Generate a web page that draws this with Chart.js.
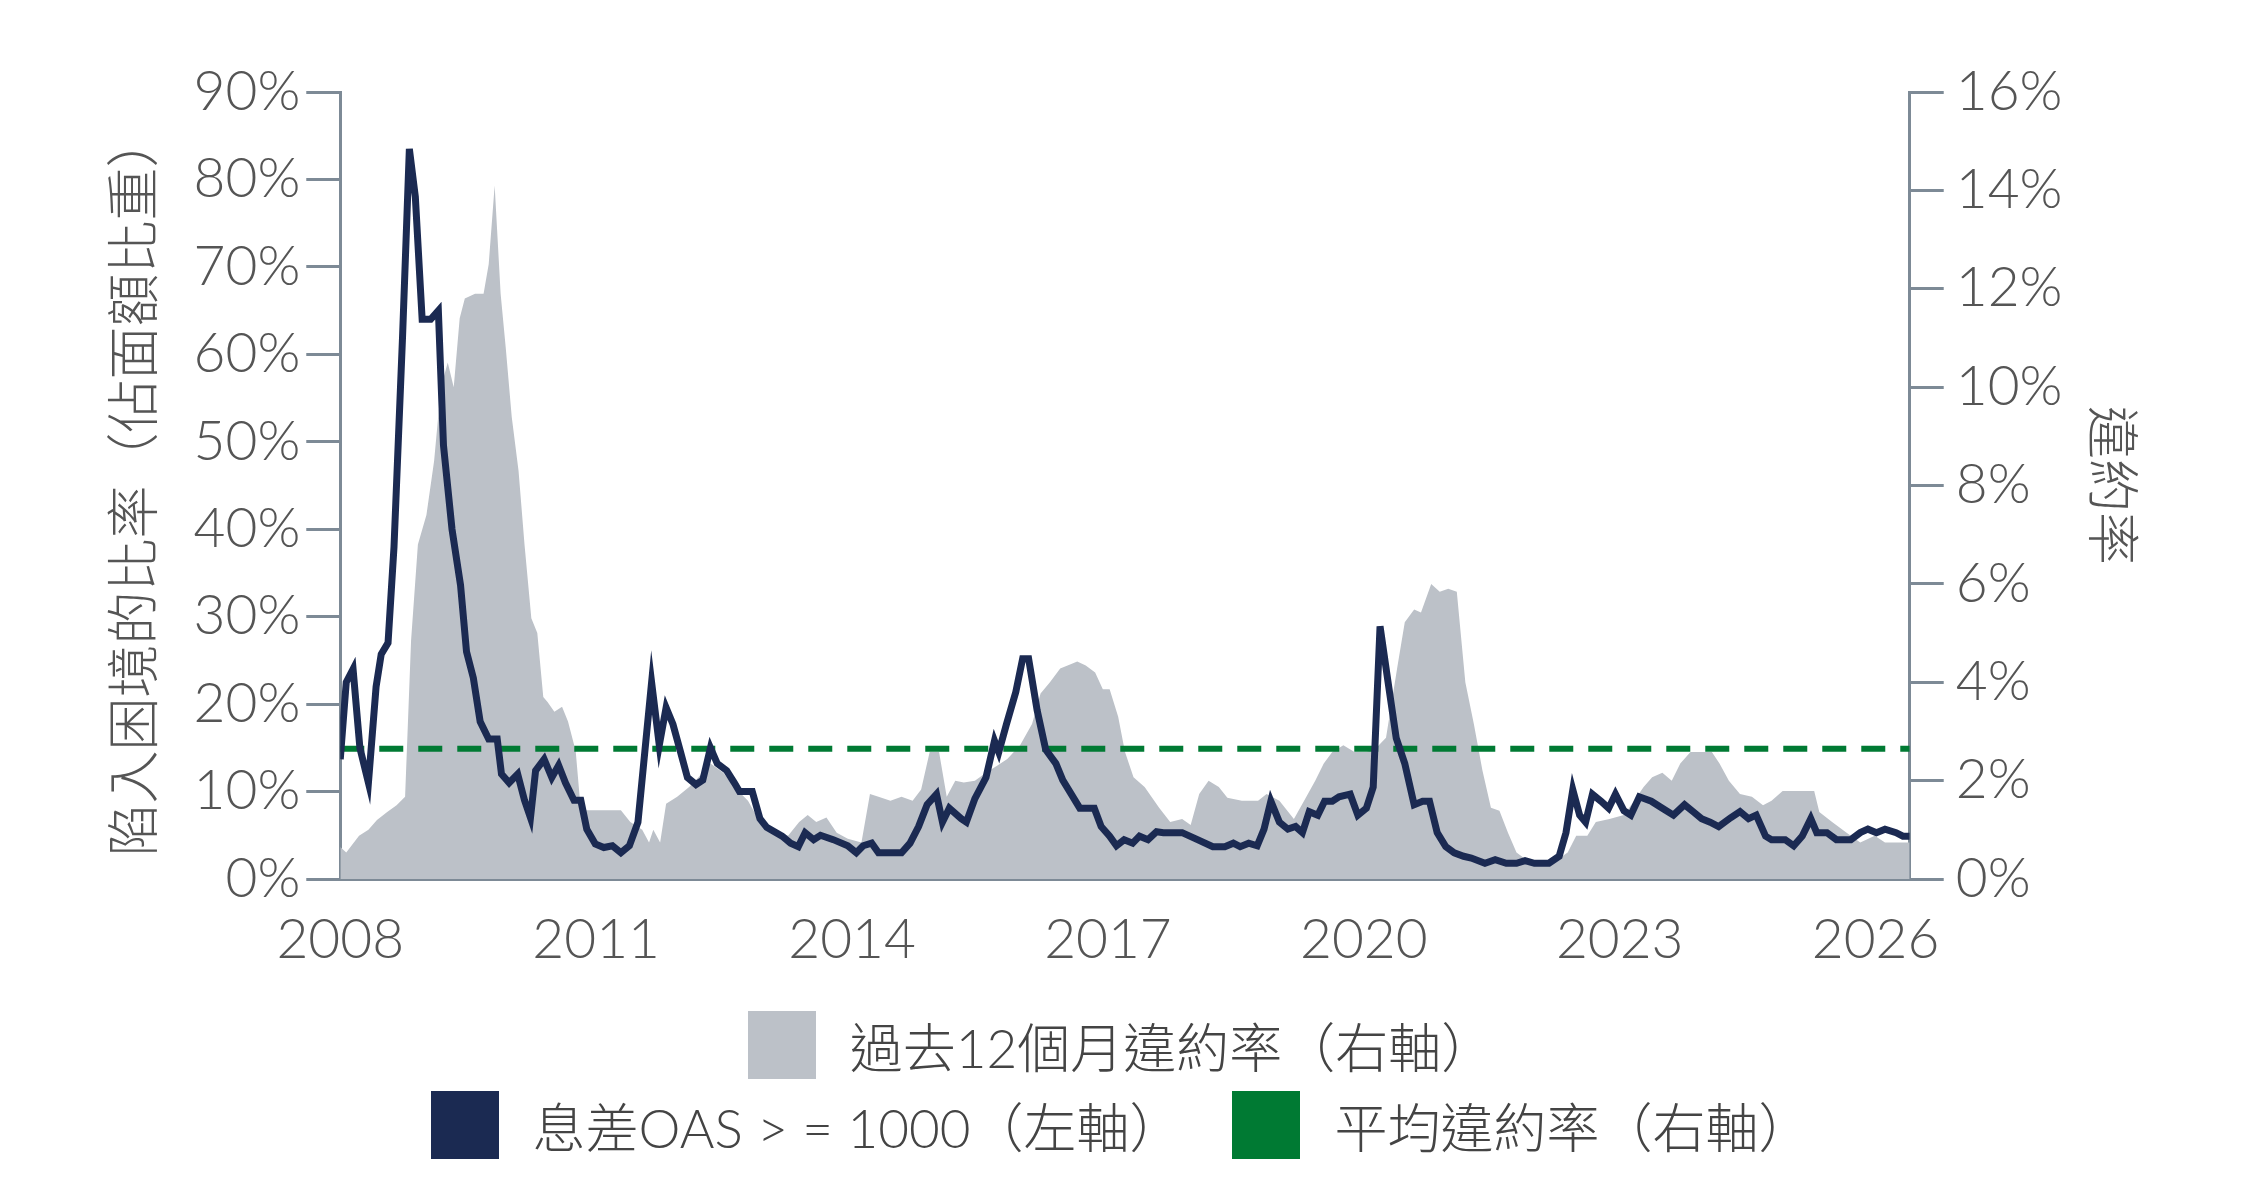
<!DOCTYPE html>
<html>
<head>
<meta charset="utf-8">
<script src="https://cdn.jsdelivr.net/npm/chart.js@4.4.1/dist/chart.umd.min.js"></script>
<style>
  body { margin: 0; background: #fff; width: 2242px; height: 1196px; overflow: hidden; }
  #wrap { position: relative; width: 2242px; height: 1000px; }
  .leyenda { font-family: Lato, "Noto Sans CJK TC", sans-serif; font-weight: 300; font-size: 53px; color: #444;
             display: flex; justify-content: center; align-items: center; gap: 50px; height: 80px; }
  .item { display: flex; align-items: center; }
  .caja { width: 68px; height: 68px; margin-right: 34px; }
</style>
</head>
<body>
<div id="wrap"><canvas id="grafico" width="2242" height="1000"></canvas></div>
<div class="leyenda" style="margin-top:5px"><div class="item"><div class="caja" style="background:#bcc1c8"></div>過去12個月違約率（右軸）</div></div>
<div class="leyenda"><div class="item"><div class="caja" style="background:#1b2a52"></div>息差OAS &gt; = 1000（左軸）</div>
<div class="item"><div class="caja" style="background:#007a33"></div>平均違約率（右軸）</div></div>
<script>
// Serie: % en dificultades (eje izquierdo)
const anosDificultad = [2008.00,2008.07,2008.15,2008.23,2008.33,2008.42,2008.48,2008.56,2008.63,2008.73,2008.81,2008.88,2008.96,2009.06,2009.15,2009.21,2009.31,2009.41,2009.48,2009.56,2009.64,2009.74,2009.84,2009.89,2009.98,2010.08,2010.16,2010.23,2010.29,2010.39,2010.48,2010.56,2010.64,2010.74,2010.82,2010.89,2010.99,2011.09,2011.19,2011.29,2011.39,2011.49,2011.57,2011.65,2011.74,2011.82,2011.90,2011.99,2012.07,2012.17,2012.25,2012.34,2012.42,2012.53,2012.62,2012.68,2012.83,2012.92,2013.00,2013.18,2013.28,2013.37,2013.45,2013.55,2013.63,2013.78,2013.95,2014.05,2014.13,2014.23,2014.31,2014.58,2014.68,2014.78,2014.88,2014.99,2015.06,2015.14,2015.28,2015.34,2015.44,2015.57,2015.67,2015.72,2015.81,2015.92,2016.00,2016.07,2016.17,2016.27,2016.39,2016.47,2016.57,2016.67,2016.84,2016.92,2017.02,2017.10,2017.19,2017.29,2017.37,2017.47,2017.57,2017.65,2017.87,2018.05,2018.23,2018.37,2018.47,2018.55,2018.65,2018.75,2018.83,2018.91,2019.01,2019.11,2019.20,2019.28,2019.36,2019.46,2019.54,2019.63,2019.71,2019.84,2019.93,2020.03,2020.11,2020.19,2020.28,2020.38,2020.48,2020.59,2020.69,2020.77,2020.86,2020.96,2021.06,2021.17,2021.26,2021.42,2021.54,2021.67,2021.79,2021.89,2022.00,2022.17,2022.29,2022.37,2022.45,2022.53,2022.60,2022.68,2022.78,2022.87,2022.95,2023.05,2023.13,2023.23,2023.37,2023.50,2023.63,2023.76,2023.86,2023.96,2024.06,2024.16,2024.30,2024.41,2024.51,2024.60,2024.71,2024.78,2024.94,2025.04,2025.14,2025.24,2025.31,2025.43,2025.54,2025.71,2025.82,2025.91,2026.01,2026.11,2026.24,2026.32,2026.40];
const valoresDificultad = [13.7,22.5,24,15,11,22,25.7,27,38,62,83.5,78,64,64,65,49.6,40,33.6,26,23,18,16,16,12,11,12,9,7,12.4,13.7,11.6,13,11,9,9,5.7,4,3.6,3.8,3,3.8,6.5,14.5,22.5,15.3,19.6,17.7,14.5,11.6,10.8,11.3,15,13.2,12.4,11,10,10,6.9,5.9,4.9,4.1,3.7,5.3,4.5,5,4.5,3.8,3,3.8,4.1,3,3,4.1,6,8.5,9.7,6.5,8.1,6.9,6.5,9.2,11.6,15.8,14.5,17.7,21.4,25.2,25.2,19.3,14.8,13.2,11.3,9.7,8.1,8.1,6,4.9,3.8,4.5,4.1,4.9,4.5,5.4,5.3,5.3,4.5,3.7,3.7,4.1,3.7,4.1,3.8,5.7,8.9,6.5,5.7,6,5.3,7.7,7.3,8.9,8.9,9.4,9.7,7.3,8.1,10.5,28.9,22.8,16.1,13.2,8.5,8.9,8.9,5.3,3.7,3,2.6,2.4,1.8,2.2,1.8,1.8,2.1,1.8,1.8,2.6,5.3,10.2,7.3,6.5,9.7,8.9,8.1,9.7,7.8,7.3,9.4,8.9,8.1,7.3,8.5,7.7,6.9,6.5,6,7,7.7,6.9,7.3,4.9,4.5,4.5,3.8,4.9,6.9,5.3,5.3,4.5,4.5,5.3,5.7,5.3,5.7,5.3,4.9,4.9];

// Serie: tasa de incumplimiento 12 meses (eje derecho)
const anosIncumplimiento = [2008.00,2008.07,2008.22,2008.33,2008.43,2008.55,2008.66,2008.76,2008.83,2008.91,2009.01,2009.10,2009.18,2009.26,2009.33,2009.40,2009.46,2009.58,2009.68,2009.74,2009.81,2009.88,2009.94,2010.01,2010.09,2010.16,2010.24,2010.31,2010.38,2010.43,2010.51,2010.60,2010.67,2010.76,2010.82,2010.99,2011.29,2011.40,2011.54,2011.62,2011.67,2011.75,2011.82,2011.95,2012.09,2012.20,2012.34,2012.49,2012.62,2012.78,2012.92,2013.08,2013.25,2013.38,2013.48,2013.58,2013.70,2013.82,2013.95,2014.11,2014.21,2014.31,2014.45,2014.58,2014.71,2014.81,2014.91,2015.02,2015.11,2015.21,2015.31,2015.44,2015.57,2015.70,2015.82,2015.97,2016.11,2016.21,2016.32,2016.44,2016.57,2016.64,2016.74,2016.85,2016.94,2017.02,2017.12,2017.20,2017.30,2017.43,2017.60,2017.73,2017.87,2017.97,2018.07,2018.18,2018.30,2018.40,2018.57,2018.76,2018.86,2019.01,2019.18,2019.30,2019.43,2019.53,2019.63,2019.76,2019.89,2020.03,2020.13,2020.26,2020.39,2020.48,2020.59,2020.67,2020.79,2020.89,2020.99,2021.09,2021.19,2021.29,2021.39,2021.49,2021.59,2021.69,2021.79,2021.92,2022.09,2022.25,2022.39,2022.49,2022.62,2022.72,2022.88,2023.05,2023.17,2023.28,2023.38,2023.50,2023.61,2023.71,2023.83,2023.94,2024.08,2024.17,2024.28,2024.41,2024.55,2024.68,2024.78,2024.91,2025.16,2025.28,2025.34,2025.49,2025.66,2025.82,2025.99,2026.11,2026.24,2026.40];
const valoresIncumplimiento = [0.65,0.54,0.88,1.0,1.2,1.36,1.5,1.67,4.85,6.8,7.4,8.5,10,10.5,10,11.4,11.8,11.9,11.9,12.5,14.1,11.9,10.8,9.4,8.3,6.8,5.3,5.0,3.7,3.6,3.4,3.5,3.2,2.6,1.4,1.4,1.4,1.16,1.0,0.74,1.0,0.74,1.53,1.67,1.87,2.07,2.35,2.16,1.87,1.59,1.16,1.02,0.88,1.16,1.3,1.16,1.25,0.94,0.82,0.74,1.73,1.67,1.59,1.67,1.59,1.82,2.58,2.58,1.67,2.0,1.96,2.0,2.16,2.3,2.44,2.72,3.15,3.77,4.0,4.28,4.37,4.42,4.34,4.2,3.86,3.86,3.3,2.58,2.07,1.87,1.45,1.16,1.22,1.1,1.73,2.0,1.87,1.65,1.59,1.59,1.73,1.59,1.22,1.59,2.0,2.35,2.58,2.72,2.58,2.58,2.64,2.87,4.28,5.22,5.48,5.42,6.0,5.84,5.9,5.84,4.0,3.15,2.21,1.45,1.39,0.94,0.54,0.37,0.31,0.37,0.54,0.88,0.88,1.16,1.22,1.3,1.59,1.87,2.07,2.16,2.0,2.35,2.58,2.58,2.58,2.35,2.0,1.73,1.67,1.5,1.59,1.79,1.79,1.79,1.36,1.16,0.94,0.74,0.88,0.74,0.74,0.74];

// Promedio (eje derecho)
const anosPromedio = [2008, 2026.4];
const valoresPromedio = [2.65, 2.65];

const ticksAnos = [2008, 2011, 2014, 2017, 2020, 2023, 2026];

function aPuntos(xs, ys) {
  return xs.map((x, i) => ({ x: x, y: ys[i] }));
}

const fuente = "Lato, 'Noto Sans CJK TC', sans-serif";
const colorEje = '#7d8a96';
const colorTexto = '#555';

new Chart(document.getElementById('grafico').getContext('2d'), {
  type: 'line',
  data: {
    datasets: [
      {
        label: '過去12個月違約率（右軸）',
        data: aPuntos(anosIncumplimiento, valoresIncumplimiento),
        yAxisID: 'y1', backgroundColor: '#bcc1c8', borderWidth: 0,
        fill: 'origin', pointRadius: 0, order: 3
      },
      {
        label: '平均違約率（右軸）',
        data: aPuntos(anosPromedio, valoresPromedio),
        yAxisID: 'y1', borderColor: '#007a33', borderWidth: 6, borderDash: [24, 15],
        pointRadius: 0, fill: false, order: 2
      },
      {
        label: '息差OAS > = 1000（左軸）',
        data: aPuntos(anosDificultad, valoresDificultad),
        yAxisID: 'y', borderColor: '#1b2a52', borderWidth: 7,
        pointRadius: 0, fill: false, order: 1
      }
    ]
  },
  options: {
    responsive: false,
    animation: false,
    layout: { padding: { top: 92, left: 100, right: 70, bottom: 7 } },
    plugins: { legend: { display: false }, tooltip: { enabled: false } },
    scales: {
      x: {
        type: 'linear', min: 2008, max: 2026.4,
        afterBuildTicks: axis => { axis.ticks = ticksAnos.map(v => ({ value: v })); },
        grid: { display: false },
        border: { color: colorEje, width: 3 },
        ticks: { color: colorTexto, font: { family: fuente, size: 55, weight: 300 }, padding: 20, maxRotation: 0,
                 callback: v => String(v) }
      },
      y: {
        position: 'left', min: 0, max: 90,
        grid: { drawOnChartArea: false, drawTicks: true, tickLength: 34, color: colorEje, lineWidth: 3 },
        border: { color: colorEje, width: 3 },
        ticks: { stepSize: 10, color: colorTexto, font: { family: fuente, size: 55, weight: 300 }, padding: 6,
                 callback: v => v + '%' },
        title: { display: true, text: '陷入困境的比率（佔面額比重）', color: colorTexto,
                 font: { family: fuente, size: 53, weight: 300 }, padding: { bottom: 20 } }
      },
      y1: {
        position: 'right', min: 0, max: 16,
        grid: { drawOnChartArea: false, drawTicks: true, tickLength: 34, color: colorEje, lineWidth: 3 },
        border: { color: colorEje, width: 3 },
        ticks: { stepSize: 2, color: colorTexto, font: { family: fuente, size: 55, weight: 300 }, padding: 12,
                 callback: v => v + '%' },
        title: { display: true, text: '違約率', color: colorTexto,
                 font: { family: fuente, size: 53, weight: 300 }, padding: { top: 30 } }
      }
    }
  }
});
</script>
</body>
</html>
